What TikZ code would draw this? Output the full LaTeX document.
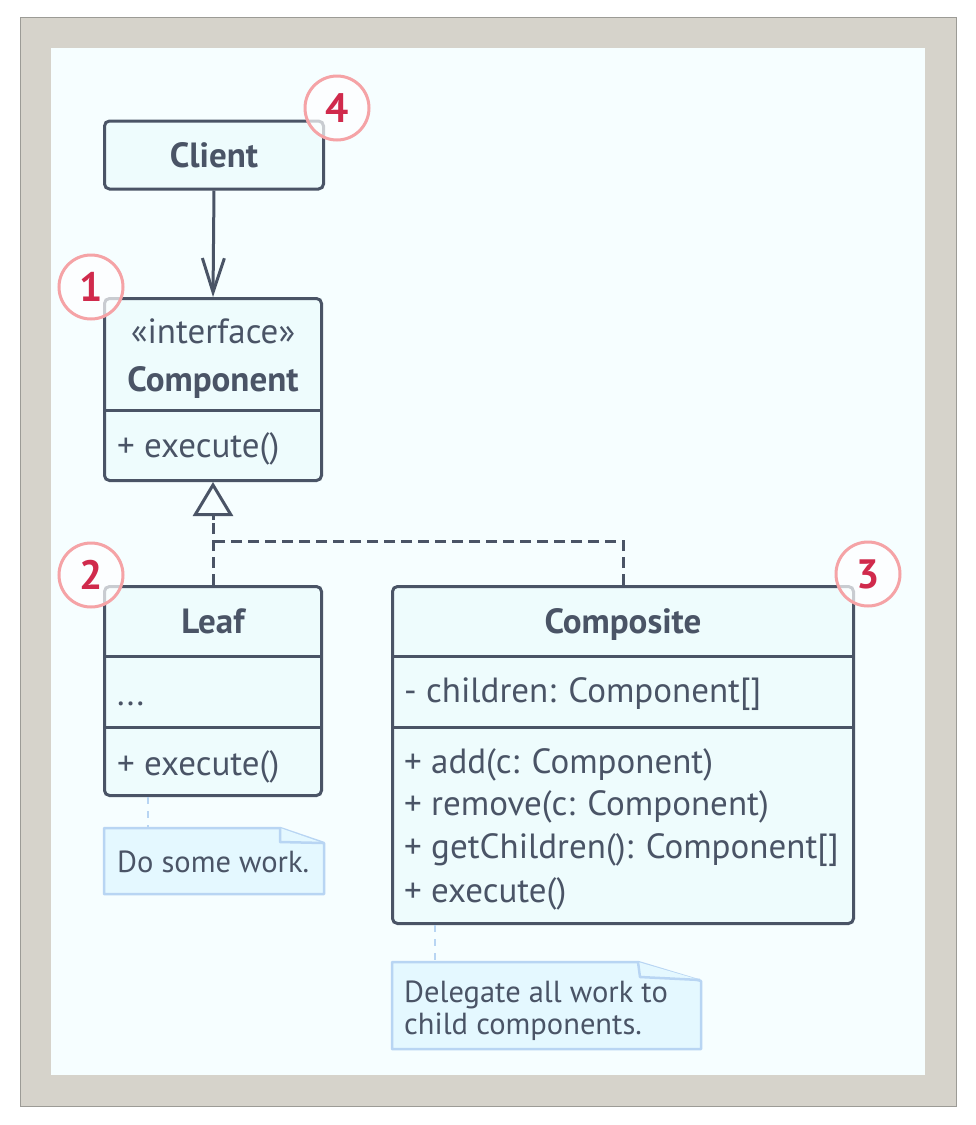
\documentclass[tikz,border=0pt]{standalone}
\usepackage{fontspec}
\setmainfont{PT Sans}
\usetikzlibrary{arrows.meta,calc}
\definecolor{frame}{HTML}{D6D3CB}
\definecolor{frameedge}{HTML}{9C9B96}
\definecolor{panel}{HTML}{F6FEFF}
\definecolor{boxfill}{HTML}{EEFCFD}
\definecolor{ink}{HTML}{4A5466}
\definecolor{notefill}{HTML}{E4F8FF}
\definecolor{noteedge}{HTML}{B8D5F3}
\definecolor{badgeedge}{HTML}{F5A3A6}
\definecolor{badgenum}{HTML}{D02A4C}
\begin{document}
\begin{tikzpicture}[x=1pt,y=-1pt,
  uml/.style={draw=ink,line width=3pt,fill=boxfill,rounded corners=5pt,inner sep=0pt,rectangle},
  divider/.style={draw=ink,line width=3pt},
  txt/.style={text=ink,font=\fontsize{35}{40}\selectfont,inner sep=0pt,anchor=base west},
  notetxt/.style={text=ink,font=\fontsize{30.5}{36}\selectfont,inner sep=0pt,anchor=base west},
  ttl/.style={text=ink,font=\fontsize{35}{40}\selectfont\bfseries,inner sep=0pt,anchor=base},
  notebox/.style={draw=noteedge,line width=2.5pt,fill=notefill,line join=round},
  notelink/.style={draw=noteedge,line width=2.5pt,dash pattern=on 7pt off 7pt},
  badge/.style={circle,draw=badgeedge,line width=3pt,fill=white,fill opacity=0.7,text opacity=1,
    minimum size=64pt,inner sep=0pt,text=badgenum,font=\fontsize{41}{44}\selectfont\bfseries},
  real/.style={draw=ink,line width=3pt,dash pattern=on 11pt off 6pt}
]
\useasboundingbox (0,0) rectangle (976,1125);
\fill[white] (0,0) rectangle (976,1125);
\draw[frameedge,fill=frame,line width=1pt] (20,17) rectangle (956,1106);
\fill[panel] (51,48) rectangle (925,1075);

% Client
\node[uml,minimum width=219pt,minimum height=68pt] (client) at (214,155) {};
\node[ttl] (clientt) at (214,167) {Client};

% Component
\node[uml,minimum width=217pt,minimum height=182pt] (comp) at (213,389.5) {};
\draw[divider] (comp.west |- 0,410) -- (comp.east |- 0,410);
\node[ttl,font=\fontsize{35}{40}\selectfont] (compst) at (213,343) {«interface»};
\node[ttl] (compt) at (213,391) {Component};
\node[txt] (compm) at (117,457) {+ execute()};

% Leaf
\node[uml,minimum width=217pt,minimum height=209pt] (leaf) at (213,691) {};
\draw[divider] (leaf.west |- 0,656) -- (leaf.east |- 0,656);
\draw[divider] (leaf.west |- 0,727) -- (leaf.east |- 0,727);
\node[ttl] (leaft) at (213,633) {Leaf};
\node[txt] (leaff) at (117,705) {...};
\node[txt] (leafm) at (117,775) {+ execute()};

% Composite
\node[uml,minimum width=461pt,minimum height=337pt] (composite) at (623,755) {};
\draw[divider] (composite.west |- 0,656) -- (composite.east |- 0,656);
\draw[divider] (composite.west |- 0,727) -- (composite.east |- 0,727);
\node[ttl] (compot) at (623,633) {Composite};
\node[txt] (compof) at (404,702) {- children: Component[]};
\node[txt] (compom1) at (404,773) {+ add(c: Component)};
\node[txt] (compom2) at (404,815) {+ remove(c: Component)};
\node[txt] (compom3) at (404,858) {+ getChildren(): Component[]};
\node[txt] (compom4) at (404,902) {+ execute()};

% Client -> Component
\draw[draw=ink,line width=3pt,-{Straight Barb[length=34pt,width=22pt]}] (client.south) -- (comp.north);

% Realization
\coordinate (tri) at (213,520);
\coordinate (joint) at (213,541);
\coordinate (jointr) at (623,541);
\draw[real] (leaf.north) -- (tri);
\draw[real] (composite.north) -- (jointr) -- (joint);
\draw[draw=ink,line width=3pt,-{Triangle[open,length=34pt,width=40pt,fill=panel]}] (tri) -- (comp.south);

% Notes
\coordinate (n1a) at (104,828);
\draw[notebox] (104,828) -- (280,828) -- (324,843) -- (324,894) -- (104,894) -- cycle;
\draw[notebox] (280,828) -- (280,842) -- (323,843);
\node[notetxt] (note1) at (117,872) {Do some work.};
\draw[notelink] (leaf.south -| 148,0) -- (n1a -| 148,0);

\coordinate (n2a) at (392,962);
\draw[notebox] (392,962) -- (638,962) -- (701,981) -- (701,1049) -- (392,1049) -- cycle;
\draw[notebox] (638,962) -- (640,977) -- (700,980);
\node[notetxt] (note2a) at (404,1002) {Delegate all work to};
\node[notetxt] (note2b) at (404,1034) {child components.};
\draw[notelink] (composite.south -| 435,0) -- (n2a -| 435,0);

% Badges
\node[badge] (b4) at (337,108) {4};
\node[badge] (b1) at (91,287) {1};
\node[badge] (b2) at (91,575) {2};
\node[badge] (b3) at (868,574) {3};
\end{tikzpicture}
\end{document}
